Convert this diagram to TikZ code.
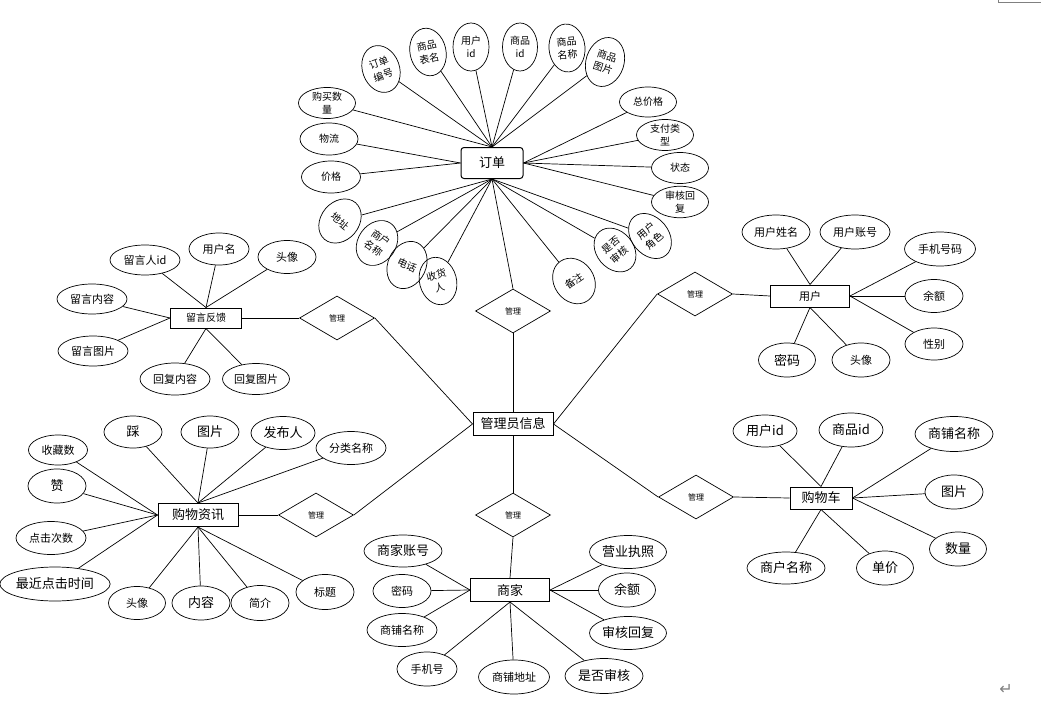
\documentclass[tikz,border=0pt]{standalone}
\usepackage{fontspec}
\setmainfont{Noto Sans CJK SC}
\newfontfamily\symfont{DejaVu Sans}
\usetikzlibrary{shapes.geometric}

\begin{document}
\begin{tikzpicture}[x=1pt,y=-1pt,line width=0.7pt,
  sz/.style 2 args={minimum width=#1,minimum height=#2},
  attr/.style={ellipse,draw,inner sep=0pt,align=center,font=\fontsize{11pt}{12pt}\selectfont},
  big/.style={font=\fontsize{13pt}{14pt}\selectfont},
  sml/.style={font=\fontsize{10pt}{13pt}\selectfont},
  ent/.style={rectangle,draw,line width=1pt,inner sep=0pt,font=\fontsize{13pt}{14pt}\selectfont},
  rel/.style={diamond,draw,inner sep=0pt,sz={75}{44},font=\fontsize{8pt}{9pt}\selectfont}]
  \useasboundingbox (0,0) rectangle (1046,717);

  % entities and relations
  \node[ent,sz={80}{23}] (gly) at (513,424) {管理员信息};
  \node[ent,rounded corners=3pt,sz={62}{31}] (dd) at (492,163) {订单};
  \node[ent,sz={71}{20},font=\fontsize{10pt}{11pt}\selectfont] (ly) at (206,318) {留言反馈};
  \node[ent,sz={80}{23}] (gw) at (198,515) {购物资讯};
  \node[ent,sz={79}{23}] (sj) at (510,590) {商家};
  \node[ent,sz={79}{22},font=\fontsize{11pt}{12pt}\selectfont] (yh) at (810,296) {用户};
  \node[ent,sz={62}{22}] (gwc) at (821,498) {购物车};
  \node[rel] (r1) at (513,311) {管理};
  \node[rel] (r2) at (337,318) {管理};
  \node[rel] (r3) at (316,515) {管理};
  \node[rel] (r4) at (513,515) {管理};
  \node[rel] (r5) at (695,294) {管理};
  \node[rel] (r6) at (696,497) {管理};

  % 订单
  \node[attr,sml,sz={57}{30}] (dd1) at (327,103) {购买数\\量};
  \node[attr,sml,sz={37}{48},rotate=20] (dd2) at (381,69) {订单\\编号};
  \node[attr,sml,sz={36}{48},rotate=12] (dd3) at (428,52) {商品\\表名};
  \node[attr,sml,sz={36}{48}] (dd4) at (471,47) {用户\\id};
  \node[attr,sml,sz={35}{48}] (dd5) at (520,47) {商品\\id};
  \node[attr,sml,sz={36}{48},rotate=5] (dd6) at (567,48) {商品\\名称};
  \node[attr,sml,sz={38}{50},rotate=-18] (dd7) at (605,62) {商品\\图片};
  \node[attr,sml,sz={57}{30}] (dd8) at (648,102) {总价格};
  \node[attr,sml,sz={57}{31}] (dd9) at (665,135) {支付类\\型};
  \node[attr,sml,sz={57}{31}] (dd10) at (680,168) {状态};
  \node[attr,sml,sz={57}{30}] (dd11) at (680,202) {审核回\\复};
  \node[attr,sml,sz={37}{50},rotate=40] (dd12) at (650,236) {用户\\角色};
  \node[attr,sml,sz={37}{48},rotate=40] (dd13) at (615,250) {是否\\审核};
  \node[attr,sml,sz={40}{48},rotate=35] (dd14) at (574,281) {备注};
  \node[attr,sml,sz={37}{48},rotate=15] (dd15) at (438,281) {收货\\人};
  \node[attr,sml,sz={38}{49},rotate=-25] (dd16) at (407,265) {电话};
  \node[attr,sml,sz={38}{48},rotate=-35] (dd17) at (377,243) {商户\\名称};
  \node[attr,sml,sz={38}{48},rotate=-40] (dd18) at (340,221) {地址};
  \node[attr,sml,sz={58}{32}] (dd19) at (329,139) {物流};
  \node[attr,sml,sz={59}{32}] (dd20) at (331,177) {价格};

  % 留言反馈
  \node[attr,sz={70}{30}] (ly1) at (145,260) {留言人id};
  \node[attr,sz={60}{32}] (ly2) at (219,249) {用户名};
  \node[attr,sz={58}{33}] (ly3) at (287,257) {头像};
  \node[attr,sz={70}{30}] (ly4) at (92,299) {留言内容};
  \node[attr,sz={70}{30}] (ly5) at (93,351) {留言图片};
  \node[attr,sz={70}{32}] (ly6) at (175,379) {回复内容};
  \node[attr,sz={67}{31}] (ly7) at (256,379) {回复图片};

  % 购物资讯
  \node[attr,sz={59}{30}] (gw1) at (58,450) {收藏数};
  \node[attr,big,sz={58}{32}] (gw2) at (133,432) {踩};
  \node[attr,big,sz={58}{32}] (gw3) at (210,432) {图片};
  \node[attr,big,sz={64}{33}] (gw4) at (283,433) {发布人};
  \node[attr,sz={70}{33}] (gw5) at (351,448) {分类名称};
  \node[attr,big,sz={58}{34}] (gw6) at (57,486) {赞};
  \node[attr,sz={70}{33}] (gw7) at (51,538) {点击次数};
  \node[attr,big,sz={110}{34}] (gw8) at (55,584) {最近点击时间};
  \node[attr,sz={57}{33}] (gw9) at (137,603) {头像};
  \node[attr,big,sz={58}{34}] (gw10) at (201,603) {内容};
  \node[attr,sz={58}{35}] (gw11) at (260,603) {简介};
  \node[attr,sz={58}{35}] (gw12) at (325,592) {标题};

  % 商家
  \node[attr,big,sz={78}{32}] (sj1) at (403,551) {商家账号};
  \node[attr,sz={58}{33}] (sj2) at (402,591) {密码};
  \node[attr,sz={70}{33}] (sj3) at (402,630) {商铺名称};
  \node[attr,sz={60}{34}] (sj4) at (427,669) {手机号};
  \node[attr,sz={71}{34}] (sj5) at (514,677) {商铺地址};
  \node[attr,big,sz={78}{35}] (sj6) at (604,676) {是否审核};
  \node[attr,big,sz={77}{33}] (sj7) at (628,552) {营业执照};
  \node[attr,big,sz={57}{34}] (sj8) at (627,590) {余额};
  \node[attr,big,sz={77}{33}] (sj9) at (628,633) {审核回复};

  % 用户
  \node[attr,sz={68}{34}] (yh1) at (776,232) {用户姓名};
  \node[attr,sz={70}{34}] (yh2) at (855,232) {用户账号};
  \node[attr,sz={71}{34}] (yh3) at (940,249) {手机号码};
  \node[attr,sz={58}{33}] (yh4) at (934,296) {余额};
  \node[attr,sz={58}{32}] (yh5) at (934,344) {性别};
  \node[attr,big,sz={57}{34}] (yh6) at (787,360) {密码};
  \node[attr,sz={58}{34}] (yh7) at (861,360) {头像};

  % 购物车
  \node[attr,big,sz={64}{32}] (gwc1) at (765,431) {用户id};
  \node[attr,big,sz={64}{34}] (gwc2) at (851,430) {商品id};
  \node[attr,big,sz={78}{35}] (gwc3) at (954,434) {商铺名称};
  \node[attr,big,sz={58}{34}] (gwc4) at (954,492) {图片};
  \node[attr,big,sz={57}{34}] (gwc5) at (958,549) {数量};
  \node[attr,big,sz={78}{32}] (gwc6) at (786,568) {商户名称};
  \node[attr,big,sz={57}{34}] (gwc7) at (885,568) {单价};

  \path (dd.south) edge (r1.north)
  (r1.south) edge (gly.north)
  (ly.east) edge (r2.west)
  (r2.east) edge (gly.west)
  (gw.east) edge (r3.west)
  (r3.east) edge (gly.west)
  (gly.south) edge (r4.north)
  (r4.south) edge (sj.north)
  (gly.east) edge (r5.west)
  (r5.east) edge (yh.west)
  (gly.east) edge (r6.west)
  (r6.east) edge (gwc.west);

  \path (dd.north) edge (dd1) (dd.north) edge (dd2)
  (dd.north) edge (dd3) (dd.north) edge (dd4)
  (dd.north) edge (dd5) (dd.north) edge (dd6)
  (dd.north) edge (dd7) (dd.east) edge (dd8)
  (dd.east) edge (dd9) (dd.east) edge (dd10)
  (dd.east) edge (dd11) (dd.south) edge (dd12)
  (dd.south) edge (dd13) (dd.south) edge (dd14)
  (dd.south) edge (dd15) (dd.south) edge (dd16)
  (dd.south) edge (dd17) (dd.south) edge (dd18)
  (dd.west) edge (dd19) (dd.west) edge (dd20);

  \path (ly.north) edge (ly1) (ly.north) edge (ly2)
  (ly.north) edge (ly3) (ly.west) edge (ly4)
  (ly.west) edge (ly5) (ly.south) edge (ly6)
  (ly.south) edge (ly7);

  \path (gw.west) edge (gw1) (gw.north) edge (gw2)
  (gw.north) edge (gw3) (gw.north) edge (gw4)
  (gw.north) edge (gw5) (gw.west) edge (gw6)
  (gw.west) edge (gw7) (gw.west) edge (gw8)
  (gw.south) edge (gw9) (gw.south) edge (gw10)
  (gw.south) edge (gw11) (gw.south) edge (gw12);

  \path (sj.west) edge (sj1) (sj.west) edge (sj2)
  (sj.west) edge (sj3) (sj.south) edge (sj4)
  (sj.south) edge (sj5) (sj.south) edge (sj6)
  (sj.east) edge (sj7) (sj.east) edge (sj8)
  (sj.east) edge (sj9);

  \path (yh.north) edge (yh1) (yh.north) edge (yh2)
  (yh.east) edge (yh3) (yh.east) edge (yh4)
  (yh.east) edge (yh5) (yh.south) edge (yh6)
  (yh.south) edge (yh7);

  \path (gwc.north) edge (gwc1) (gwc.north) edge (gwc2)
  (gwc.east) edge (gwc3) (gwc.east) edge (gwc4)
  (gwc.east) edge (gwc5) (gwc.south) edge (gwc6)
  (gwc.south) edge (gwc7);

  % page marks
  \draw[gray,line width=0.8pt] (998,0) -- (998,2.5) -- (1041,2.5);
  \node[gray,font=\symfont\fontsize{16pt}{17pt}\selectfont] (ret) at (1006,689) {↵};
\end{tikzpicture}
\end{document}
